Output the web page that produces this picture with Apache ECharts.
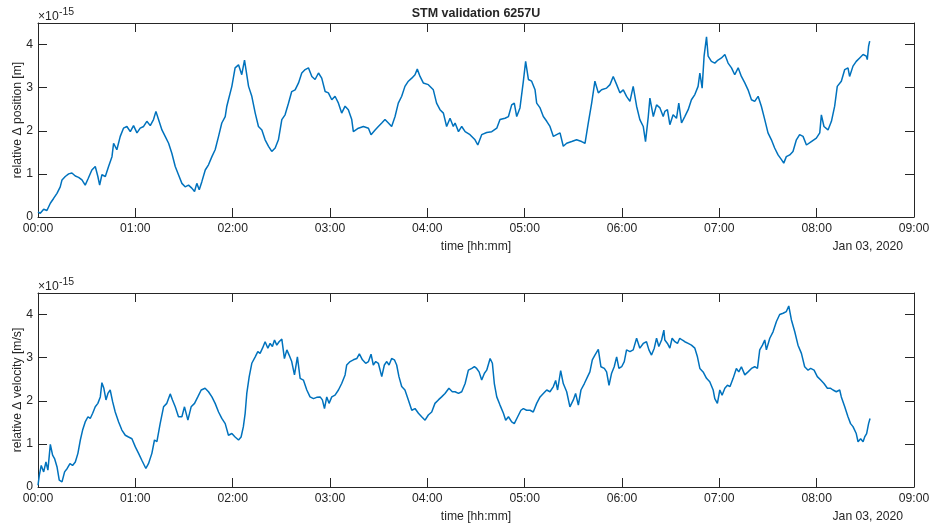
<!DOCTYPE html>
<html><head><meta charset="utf-8">
<script src="https://cdn.jsdelivr.net/npm/echarts@6.0.0/dist/echarts.min.js"></script>
<style>html,body{margin:0;padding:0;background:#fff}#c{width:935px;height:529px}</style>
</head><body><div id="c"></div>
<script>
// x axis: minutes since 00:00, tick every hour
const xTickLabels = ['00:00','01:00','02:00','03:00','04:00','05:00','06:00','07:00','08:00','09:00'];
const yTickLabels = ['0','1','2','3','4'];
const chartTitle = 'STM validation 6257U';
const xName = 'time [hh:mm]';
const dateLabel = 'Jan 03, 2020';
const posName = 'relative \u0394 position [m]';
const velName = 'relative \u0394 velocity [m/s]';

// relative delta position (x 1e-15 m)
const posTime = [0,1.4,3.5,5.5,7.6,9.6,11.7,13.7,14.8,16.8,18.9,20.9,23.0,25.0,27.1,29.1,30.8,33.2,35.3,36.9,38.0,39.4,41.5,43.5,45.6,46.6,48.6,50.7,52.7,54.8,56.9,58.9,61.0,63.0,65.1,67.1,69.2,71.2,72.7,74.3,76.4,78.4,80.5,82.5,84.6,86.6,88.7,90.7,92.8,94.8,96.5,97.9,99.4,101.0,103.1,105.1,107.2,109.2,111.3,113.3,115.4,116.4,117.4,119.5,121.5,123.6,125.6,127.3,
129.8,131.8,133.9,135.9,138.0,140.0,142.1,144.1,146.2,148.2,150.3,152.3,154.4,156.4,158.5,160.6,162.6,164.7,166.7,168.8,170.8,172.9,174.9,177.0,179.0,181.1,183.1,185.2,187.2,189.3,191.3,193.4,194.4,197.5,200.6,203.7,205.3,207.8,209.8,211.9,213.9,216.0,218.0,220.1,222.1,224.2,226.2,228.3,230.4,232.4,233.8,235.5,237.5,240.6,243.7,245.7,247.8,249.9,251.9,254.0,256.0,
257.1,259.2,261.2,263.3,266.3,269.4,271.1,273.5,276.6,279.7,282.8,284.8,287.9,290.0,292.0,293.6,295.1,297.1,299.2,300.6,302.3,304.3,306.4,307.4,309.5,311.5,313.6,315.6,317.7,319.7,321.8,323.8,325.9,329.0,332.0,335.1,337.2,339.2,341.3,343.3,345.4,347.4,350.5,352.6,354.6,356.7,358.7,360.8,362.8,364.9,366.9,369.0,371.0,373.1,374.5,376.2,377.2,379.3,381.3,383.4,385.4,
386.4,388.0,389.5,391.5,393.6,395.0,396.7,398.7,400.8,402.8,404.9,406.9,408.0,409.4,410.6,412.1,413.1,415.1,417.2,419.2,421.3,423.4,425.4,427.5,429.5,431.6,433.6,435.7,437.7,439.8,441.8,443.9,445.9,448.0,450.0,452.1,454.1,456.2,458.3,459.7,461.3,463.4,465.4,467.5,469.5,471.6,473.7,476.7,479.8,481.9,482.9,484.5,487.0,489.1,491.1,492.7,495.2,497.3,499.3,500.3,502.4,504.4,506.5,508.6,510.6,511.2,512.0,512.7];
const posValue = [0.12,0.085,0.18,0.15,0.32,0.43,0.55,0.7,0.86,0.94,1.0,1.02,0.95,0.92,0.86,0.74,0.88,1.09,1.17,0.94,0.74,0.98,0.94,1.17,1.4,1.71,1.56,1.87,2.06,2.1,1.98,2.12,1.95,2.06,2.1,2.22,2.12,2.26,2.45,2.26,2.02,1.87,1.71,1.48,1.17,0.98,0.78,0.7,0.74,0.67,0.59,0.78,0.63,0.82,1.09,1.21,1.4,1.56,1.87,2.18,2.33,2.57,2.72,3.03,3.46,3.53,3.3,3.64,
3.03,2.8,2.41,2.1,2.02,1.79,1.64,1.52,1.6,1.79,2.26,2.37,2.64,2.91,2.95,3.11,3.34,3.42,3.46,3.26,3.19,3.34,3.22,2.91,2.88,2.72,2.8,2.64,2.41,2.57,2.49,2.26,1.98,2.06,2.1,2.06,1.91,2.02,2.1,2.18,2.26,2.18,2.1,2.33,2.64,2.8,3.03,3.15,3.22,3.3,3.43,3.26,3.11,3.07,2.95,2.64,2.49,2.41,2.1,2.29,2.1,
2.18,1.98,2.1,1.98,1.91,1.79,1.67,1.91,1.96,1.98,2.06,2.26,2.29,2.33,2.6,2.64,2.33,2.53,3.15,3.61,3.19,3.15,2.95,2.64,2.53,2.33,2.22,2.1,1.87,1.91,1.95,1.64,1.71,1.75,1.79,1.75,1.71,2.18,2.64,3.15,2.88,2.95,2.99,3.07,3.26,3.07,2.88,2.95,2.8,2.68,3.03,2.57,2.26,2.1,1.75,2.33,2.76,2.33,2.6,2.53,2.33,
2.45,2.49,2.14,2.37,2.29,2.64,2.18,2.33,2.49,2.72,2.84,3.03,3.34,2.99,3.73,4.18,3.73,3.61,3.57,3.64,3.69,3.77,3.57,3.46,3.3,3.46,3.26,3.11,2.95,2.72,2.68,2.8,2.57,2.26,1.95,1.79,1.6,1.44,1.33,1.25,1.4,1.44,1.52,1.79,1.91,1.87,1.67,1.75,1.83,1.95,2.37,2.1,2.02,2.22,2.57,3.03,3.15,3.42,3.46,3.26,3.5,3.61,3.69,3.77,3.73,3.65,3.96,4.08];

// relative delta velocity (x 1e-15 m/s)
const velTime = [0,0.8,2.0,3.5,4.9,6.1,7.6,9.0,10.2,11.7,13.1,14.8,16.4,18.0,19.7,21.3,23.0,24.6,26.1,27.5,29.1,30.8,32.2,33.7,35.3,36.9,38.4,39.4,40.6,41.9,43.1,44.5,46.0,47.6,49.7,51.7,53.8,55.8,57.9,60.0,62.0,64.0,66.5,68.1,70.2,71.8,73.3,75.3,77.4,79.4,81.5,82.9,84.6,86.6,88.7,90.3,92.4,94.4,96.5,98.5,100.6,103.0,105.1,107.2,109.2,111.3,113.3,115.4,117.4,119.5,121.5,123.6,125.2,126.6,
127.7,128.7,130.2,131.8,133.9,135.5,136.9,138.4,140.0,141.7,143.1,144.5,145.8,147.2,148.6,150.3,151.9,153.4,154.8,156.4,158.1,159.9,161.6,163.6,165.7,167.7,169.8,171.8,173.9,175.3,176.6,178.0,179.4,181.1,183.1,185.2,187.2,189.3,190.3,192.4,194.4,196.5,198.1,200.0,202.0,203.7,205.3,206.7,208.2,209.8,211.9,213.5,215.0,216.4,218.0,219.7,221.1,222.5,224.2,226.2,228.3,230.4,232.4,234.5,236.5,238.6,240.6,242.7,244.7,246.8,248.8,250.9,253.3,255.4,
257.1,259.2,261.2,263.3,265.3,267.4,269.0,270.4,271.9,273.5,275.2,276.6,278.7,280.1,281.3,282.8,284.8,286.9,288.3,290.0,292.0,293.6,295.7,297.7,299.2,301.2,303.3,305.3,307.4,309.5,311.5,313.6,315.6,317.7,319.1,320.3,322.2,323.8,325.9,327.9,330.0,331.4,333.1,334.7,336.8,338.8,340.2,341.7,343.3,345.4,347.0,349.1,350.5,352.0,353.6,355.2,356.7,358.1,359.8,361.4,362.8,364.9,366.9,369.0,371.0,373.1,375.1,376.6,378.2,379.9,381.3,382.7,384.4,385.8,
386.4,388.0,389.5,390.9,392.6,394.2,395.6,397.1,398.7,400.8,402.8,404.9,406.5,408.0,410.0,412.1,414.1,416.2,417.2,418.8,420.3,421.7,423.4,425.0,426.6,428.5,430.5,432.0,433.6,435.7,437.7,439.8,441.8,443.5,444.9,446.6,448.0,449.0,451.1,453.1,455.2,457.2,459.3,461.3,462.8,464.4,466.5,468.5,470.6,472.6,474.7,476.3,478.4,480.4,482.5,484.5,486.6,488.6,490.1,492.1,494.2,495.2,497.3,499.3,500.9,502.4,503.4,504.4,505.5,507.1,508.6,509.6,510.8,512.0,512.9];
const velValue = [0.04,0.27,0.5,0.35,0.58,0.39,0.99,0.74,0.66,0.47,0.16,0.12,0.35,0.43,0.54,0.5,0.58,0.78,1.09,1.32,1.51,1.63,1.59,1.71,1.86,1.94,2.09,2.42,2.29,2.02,2.17,2.25,1.98,1.74,1.51,1.32,1.2,1.16,1.12,0.93,0.78,0.62,0.43,0.54,0.78,1.09,1.05,1.47,1.86,1.94,2.16,2.02,1.86,1.63,1.63,1.86,1.55,1.86,1.94,2.09,2.25,2.29,2.21,2.09,1.94,1.74,1.59,1.47,1.2,1.24,1.16,1.09,1.16,1.4,
1.71,2.17,2.56,2.87,3.02,3.14,3.1,3.22,3.37,3.22,3.33,3.26,3.41,3.29,3.37,3.43,2.98,3.18,3.06,2.91,2.6,3.02,2.52,2.48,2.25,2.09,2.05,2.08,2.09,2.02,1.82,2.09,1.94,2.09,2.13,2.25,2.4,2.6,2.83,2.91,2.95,2.98,3.09,2.95,2.87,2.91,3.08,2.83,2.91,2.87,2.56,2.83,2.91,2.83,2.98,2.95,2.83,2.56,2.33,2.25,2.02,1.78,1.82,1.71,1.63,1.55,1.67,1.74,1.94,2.02,2.09,2.17,2.29,2.21,
2.21,2.17,2.21,2.4,2.71,2.75,2.79,2.75,2.67,2.48,2.64,2.71,2.98,2.87,2.4,2.09,1.9,1.71,1.55,1.63,1.51,1.47,1.63,1.78,1.82,1.78,1.78,1.74,1.94,2.09,2.17,2.25,2.21,2.33,2.47,2.25,2.7,2.4,2.21,1.86,2.02,2.17,1.9,2.25,2.4,2.56,2.67,2.95,3.06,3.19,2.79,2.75,2.67,2.36,2.64,2.79,3.02,2.75,2.79,2.91,3.18,3.14,3.18,3.45,3.22,3.33,3.37,3.18,3.06,3.22,3.45,3.26,3.41,3.64,
3.41,3.33,3.22,3.45,3.37,3.33,3.45,3.41,3.37,3.33,3.29,3.22,3.02,2.75,2.67,2.52,2.44,2.25,2.05,1.94,2.25,2.13,2.29,2.36,2.33,2.52,2.75,2.67,2.79,2.6,2.67,2.75,2.79,2.75,3.18,3.29,3.41,3.18,3.45,3.6,3.84,4.0,4.03,4.07,4.2,3.88,3.6,3.29,3.1,2.79,2.71,2.75,2.71,2.56,2.48,2.4,2.29,2.29,2.25,2.21,2.25,2.09,1.86,1.63,1.47,1.4,1.43,1.24,1.05,1.12,1.05,1.16,1.24,1.47,1.59];

const FONT = '"Liberation Sans", Arial, Helvetica, sans-serif';
const INK = '#262626';
const LINE = '#0072BD';
const FS = 12.2;

const grids = [
  {left: 38, top: 23, width: 876, height: 194},
  {left: 38, top: 293, width: 876, height: 194}
];

function xAx(gi, pos, labels) {
  return {
    type: 'value', gridIndex: gi, position: pos, min: 0, max: 540, interval: 60,
    axisLine: {show: true, onZero: false, lineStyle: {color: INK, width: 1}},
    axisTick: {show: true, inside: true, length: 9, lineStyle: {color: INK, width: 1}},
    axisLabel: {show: labels, margin: 6, color: INK, fontFamily: FONT, fontSize: FS,
      formatter: v => xTickLabels[Math.round(v / 60)] || ''},
    splitLine: {show: false}
  };
}
function yAx(gi, pos, labels) {
  return {
    type: 'value', gridIndex: gi, position: pos, min: 0, max: 4.5, interval: 1,
    axisLine: {show: true, onZero: false, lineStyle: {color: INK, width: 1}},
    axisTick: {show: true, inside: true, length: 9, lineStyle: {color: INK, width: 1}},
    axisLabel: {show: labels, margin: 5, color: INK, fontFamily: FONT, fontSize: FS,
      formatter: v => (Number.isInteger(v) && yTickLabels[v] !== undefined) ? yTickLabels[v] : ''},
    splitLine: {show: false}
  };
}

function txt(x, y, text, opt) {
  return Object.assign({type: 'text', x: x, y: y, silent: true,
    style: Object.assign({text: text, fill: INK, font: FS + 'px ' + FONT, textAlign: 'center', textVerticalAlign: 'middle'}, opt || {})});
}

const graphics = [
  txt(476, 13.5, chartTitle, {font: 'bold 12.5px ' + FONT}),
  txt(476, 246.5, xName),
  txt(476, 516.5, xName),
  txt(903, 246.5, dateLabel, {textAlign: 'right'}),
  txt(903, 516.5, dateLabel, {textAlign: 'right'}),
  txt(38, 16.7, '\u00d710', {textAlign: 'left'}),
  txt(59, 12, '-15', {textAlign: 'left', font: '10.5px ' + FONT}),
  txt(38, 286.7, '\u00d710', {textAlign: 'left'}),
  txt(59, 282, '-15', {textAlign: 'left', font: '10.5px ' + FONT}),
  Object.assign(txt(18, 120, posName), {rotation: Math.PI / 2}),
  Object.assign(txt(18, 390, velName), {rotation: Math.PI / 2})
];

const chart = echarts.init(document.getElementById('c'), null, {renderer: 'canvas'});
chart.setOption({
  animation: false,
  backgroundColor: '#ffffff',
  grid: grids,
  xAxis: [xAx(0, 'bottom', true), xAx(0, 'top', false), xAx(1, 'bottom', true), xAx(1, 'top', false)],
  yAxis: [yAx(0, 'left', true), yAx(0, 'right', false), yAx(1, 'left', true), yAx(1, 'right', false)],
  series: [
    {type: 'line', xAxisIndex: 0, yAxisIndex: 0, showSymbol: false, symbol: 'none',
      lineStyle: {color: LINE, width: 1.5}, data: posTime.map((t, i) => [t, posValue[i]])},
    {type: 'line', xAxisIndex: 2, yAxisIndex: 2, showSymbol: false, symbol: 'none',
      lineStyle: {color: LINE, width: 1.5}, data: velTime.map((t, i) => [t, velValue[i]])}
  ],
  graphic: graphics
});
</script>
</body></html>
